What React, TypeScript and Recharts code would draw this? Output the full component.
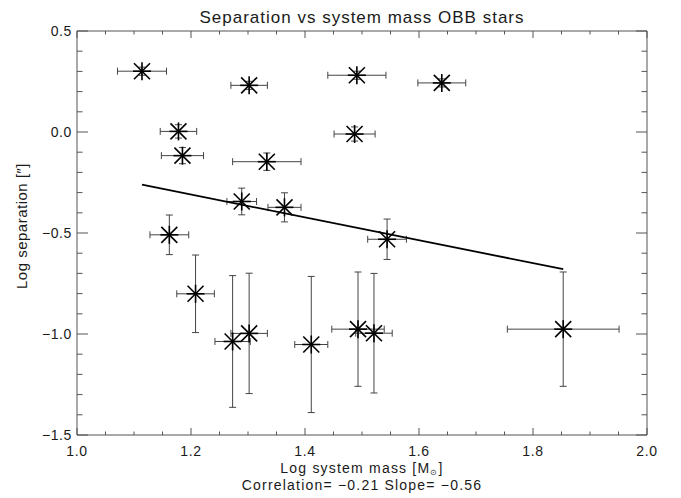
import React from 'react';
import { ComposedChart, Scatter, XAxis, YAxis, ErrorBar, Label } from 'recharts';

// log system mass, its error, log separation and its error, one entry per star
const mass = [1.114, 1.302, 1.491, 1.640, 1.178, 1.487, 1.185, 1.333, 1.289, 1.364, 1.162, 1.208, 1.273, 1.302, 1.411, 1.493, 1.521, 1.544, 1.853];
const massErr = [0.043, 0.032, 0.051, 0.042, 0.032, 0.036, 0.037, 0.06, 0.026, 0.029, 0.034, 0.033, 0.031, 0.032, 0.029, 0.046, 0.032, 0.034, 0.098];
const logSep = [0.301, 0.231, 0.281, 0.243, 0.003, -0.01, -0.117, -0.147, -0.344, -0.373, -0.509, -0.801, -1.037, -0.997, -1.052, -0.976, -0.996, -0.531, -0.976];
const logSepErr = [0.02, 0.02, 0.02, 0.02, 0.033, 0.035, 0.04, 0.043, 0.066, 0.072, 0.098, 0.192, 0.326, 0.298, 0.337, 0.283, 0.296, 0.1, 0.283];

// least squares line, drawn between the smallest and largest mass
const fitMass = [1.114, 1.853];
const fitSep = [-0.261, -0.679];

const xTicks = [1.0, 1.05, 1.1, 1.15, 1.2, 1.25, 1.3, 1.35, 1.4, 1.45, 1.5, 1.55, 1.6, 1.65, 1.7, 1.75, 1.8, 1.85, 1.9, 1.95, 2.0];
const xTickLabels = ['1.0', '1.2', '1.4', '1.6', '1.8', '2.0'];
const yTicks = [-1.5, -1.4, -1.3, -1.2, -1.1, -1.0, -0.9, -0.8, -0.7, -0.6, -0.5, -0.4, -0.3, -0.2, -0.1, 0.0, 0.1, 0.2, 0.3, 0.4, 0.5];
const yTickLabels = ['\u22121.5', '\u22121.0', '\u22120.5', '0.0', '0.5'];

const stars = mass.map((m, i) => ({ x: m, y: logSep[i], ex: massErr[i], ey: logSepErr[i] }));
const fit = fitMass.map((m, i) => ({ x: m, y: fitSep[i] }));

const FONT = "'Liberation Sans', Arial, sans-serif";
const AX = '#555';
const TXT = '#1a1a1a';

const BottomTick = (props: any) => {
  const { x, y, index } = props;
  const major = index % 4 === 0;
  return (
    <g>
      <line x1={x} y1={y} x2={x} y2={y - (major ? 7 : 3.5)} stroke={AX} />
      {major && (
        <text x={x} y={y + 21} textAnchor="middle" fontSize={14} letterSpacing={0.6} fontFamily={FONT} fill={TXT}>
          {xTickLabels[index / 4]}
        </text>
      )}
    </g>
  );
};

const TopTick = (props: any) => {
  const { x, y, index } = props;
  const major = index % 4 === 0;
  return <line x1={x} y1={y} x2={x} y2={y + (major ? 7 : 3.5)} stroke={AX} />;
};

const LeftTick = (props: any) => {
  const { x, y, index } = props;
  const major = index % 5 === 0;
  return (
    <g>
      <line x1={x} y1={y} x2={x + (major ? 11 : 5.5)} y2={y} stroke={AX} />
      {major && (
        <text x={x - 5} y={y + 5} textAnchor="end" fontSize={14} letterSpacing={0.6} fontFamily={FONT} fill={TXT}>
          {yTickLabels[index / 5]}
        </text>
      )}
    </g>
  );
};

const RightTick = (props: any) => {
  const { x, y, index } = props;
  const major = index % 5 === 0;
  return <line x1={x} y1={y} x2={x - (major ? 11 : 5.5)} y2={y} stroke={AX} />;
};

const Asterisk = (props: any) => {
  const { cx, cy } = props;
  const d = 8;
  const r = 9;
  return (
    <g stroke="#000" strokeWidth={1.6}>
      <line x1={cx - d} y1={cy - d} x2={cx + d} y2={cy + d} />
      <line x1={cx - d} y1={cy + d} x2={cx + d} y2={cy - d} />
      <line x1={cx} y1={cy - r} x2={cx} y2={cy + r} />
      <line x1={cx - r} y1={cy} x2={cx + r} y2={cy} />
    </g>
  );
};

const NoMark = () => <g />;

const XTitle = (props: any) => {
  const { viewBox } = props;
  const cx = viewBox.x + viewBox.width / 2;
  const top = viewBox.y;
  return (
    <g fontFamily={FONT} fontSize={14} letterSpacing={1.2} fill={TXT}>
      <text x={cx} y={top + 38} textAnchor="middle">
        Log system mass [M<tspan fontSize={8} dy={2}>{'\u2299'}</tspan>
        <tspan dy={-2}>]</tspan>
      </text>
      <text x={cx} y={top + 55} textAnchor="middle">
        Correlation= {'\u2212'}0.21 Slope= {'\u2212'}0.56
      </text>
    </g>
  );
};

const ChartTitle = (props: any) => {
  const { viewBox } = props;
  const cx = viewBox.x + viewBox.width / 2;
  return (
    <text x={cx} y={23} textAnchor="middle" fontFamily={FONT} fontSize={17} letterSpacing={1} fill={TXT}>
      Separation vs system mass OBB stars
    </text>
  );
};

const YTitle = () => (
  <text
    x={0}
    y={0}
    transform="translate(27, 226) rotate(-90)"
    textAnchor="middle"
    fontFamily={FONT}
    fontSize={15}
    letterSpacing={0.5}
    fill={TXT}
  >
    Log separation [{'\u2033'}]
  </text>
);

export default function App() {
  return (
    <div style={{ position: 'absolute', left: 0, top: 0, width: 681, height: 498, background: '#fff' }}>
      <ComposedChart width={681} height={498} margin={{ top: 0, right: 0, bottom: 0, left: 0 }}>
        <XAxis
          dataKey="x"
          type="number"
          domain={[1, 2]}
          ticks={xTicks}
          interval={0}
          height={63}
          tickSize={0}
          tickMargin={0}
          tickLine={false}
          axisLine={{ stroke: AX }}
          tick={BottomTick}
          allowDataOverflow
        >
          <Label content={XTitle} />
        </XAxis>
        <XAxis
          xAxisId="top"
          orientation="top"
          dataKey="x"
          type="number"
          domain={[1, 2]}
          ticks={xTicks}
          interval={0}
          height={31}
          tickSize={0}
          tickMargin={0}
          tickLine={false}
          axisLine={{ stroke: AX }}
          tick={TopTick}
          allowDataOverflow
        >
          <Label content={ChartTitle} />
        </XAxis>
        <YAxis
          dataKey="y"
          type="number"
          domain={[-1.5, 0.5]}
          ticks={yTicks}
          interval={0}
          width={77}
          tickSize={0}
          tickMargin={0}
          tickLine={false}
          axisLine={{ stroke: AX }}
          tick={LeftTick}
          allowDataOverflow
        >
          <Label content={YTitle} />
        </YAxis>
        <YAxis
          yAxisId="right"
          orientation="right"
          dataKey="y"
          type="number"
          domain={[-1.5, 0.5]}
          ticks={yTicks}
          interval={0}
          width={34}
          tickSize={0}
          tickMargin={0}
          tickLine={false}
          axisLine={{ stroke: AX }}
          tick={RightTick}
          allowDataOverflow
        />
        <Scatter
          data={fit}
          dataKey="y"
          line={{ stroke: '#000', strokeWidth: 1.8 }}
          shape={NoMark}
          isAnimationActive={false}
        />
        <Scatter data={stars} dataKey="y" shape={Asterisk} isAnimationActive={false}>
          <ErrorBar dataKey="ex" direction="x" width={3.5} stroke="#444" strokeWidth={1} />
          <ErrorBar dataKey="ey" direction="y" width={3.5} stroke="#444" strokeWidth={1} />
        </Scatter>
      </ComposedChart>
    </div>
  );
}
